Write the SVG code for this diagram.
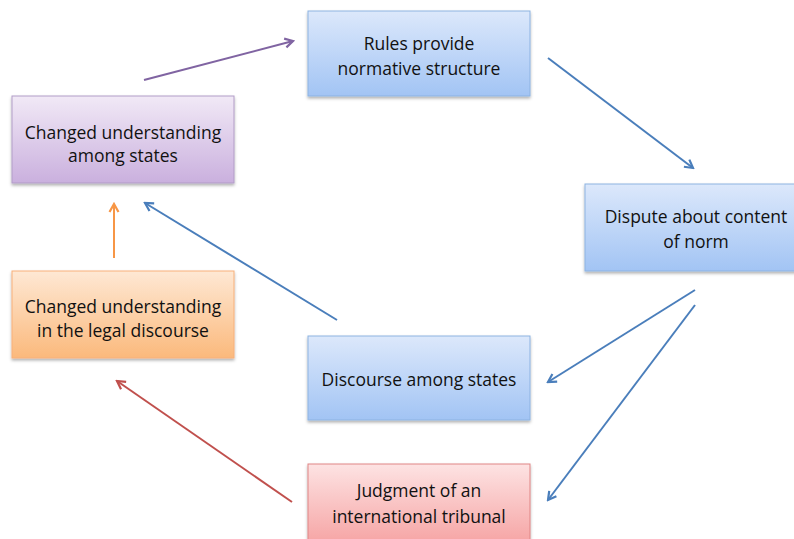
<svg xmlns="http://www.w3.org/2000/svg" width="794" height="539" viewBox="0 0 794 539">
<defs>
<linearGradient id="gBlue" x1="0" y1="0" x2="0" y2="1"><stop offset="0" stop-color="#dce8fb"/><stop offset="1" stop-color="#a2c4f4"/></linearGradient>
<linearGradient id="gPurple" x1="0" y1="0" x2="0" y2="1"><stop offset="0" stop-color="#f1e9f6"/><stop offset="1" stop-color="#cab0de"/></linearGradient>
<linearGradient id="gOrange" x1="0" y1="0" x2="0" y2="1"><stop offset="0" stop-color="#fee8d4"/><stop offset="1" stop-color="#fbb97c"/></linearGradient>
<linearGradient id="gRed" x1="0" y1="0" x2="0" y2="1"><stop offset="0" stop-color="#fde3e3"/><stop offset="1" stop-color="#f59c9c"/></linearGradient>
<filter id="sh" x="-10%" y="-10%" width="120%" height="130%"><feDropShadow dx="0" dy="2" stdDeviation="1.5" flood-color="#000" flood-opacity="0.3"/></filter>
<marker id="aBlue" markerWidth="12" markerHeight="12" refX="10" refY="6" orient="auto" markerUnits="userSpaceOnUse"><path d="M2,1.5 L10,6 L2,10.5" fill="none" stroke="#4a7ebb" stroke-width="2.2"/></marker>
<marker id="aPurple" markerWidth="12" markerHeight="12" refX="10" refY="6" orient="auto" markerUnits="userSpaceOnUse"><path d="M2,1.5 L10,6 L2,10.5" fill="none" stroke="#8064a2" stroke-width="2.2"/></marker>
<marker id="aOrange" markerWidth="12" markerHeight="12" refX="10" refY="6" orient="auto" markerUnits="userSpaceOnUse"><path d="M2,1.5 L10,6 L2,10.5" fill="none" stroke="#f79646" stroke-width="2.2"/></marker>
<marker id="aRed" markerWidth="12" markerHeight="12" refX="10" refY="6" orient="auto" markerUnits="userSpaceOnUse"><path d="M2,1.5 L10,6 L2,10.5" fill="none" stroke="#c0504d" stroke-width="2.2"/></marker>
</defs>
<style>
text{font-family:"Open Sans","Liberation Sans",sans-serif;font-size:17.5px;fill:#111111;text-anchor:middle}
.box{filter:url(#sh);stroke-width:1}
.blue{fill:url(#gBlue);stroke:#8db3e2}
.purple{fill:url(#gPurple);stroke:#b29dc7}
.orange{fill:url(#gOrange);stroke:#f7b07a}
.red{fill:url(#gRed);stroke:#e08585}
.c{fill:none;stroke-width:2}
</style>
<rect width="794" height="539" fill="#ffffff"/>
<g id="connectors">
<line class="c" x1="144" y1="80" x2="293" y2="41" stroke="#8064a2" marker-end="url(#aPurple)"/>
<line class="c" x1="548" y1="58" x2="693" y2="168" stroke="#4a7ebb" marker-end="url(#aBlue)"/>
<line class="c" x1="695" y1="290" x2="548" y2="382" stroke="#4a7ebb" marker-end="url(#aBlue)"/>
<line class="c" x1="695" y1="305" x2="548" y2="500" stroke="#4a7ebb" marker-end="url(#aBlue)"/>
<line class="c" x1="337" y1="320" x2="145" y2="203" stroke="#4a7ebb" marker-end="url(#aBlue)"/>
<line class="c" x1="114" y1="258" x2="114" y2="204" stroke="#f79646" marker-end="url(#aOrange)"/>
<line class="c" x1="292" y1="502" x2="117" y2="381" stroke="#c0504d" marker-end="url(#aRed)"/>
</g>
<g id="rules">
<rect class="box blue" x="308" y="11" width="222" height="85"/>
<text x="419" y="50">Rules provide</text>
<text x="419" y="75">normative structure</text>
</g>
<g id="changed-states">
<rect class="box purple" x="12" y="96" width="222" height="87"/>
<text x="123" y="139">Changed understanding</text>
<text x="123" y="162">among states</text>
</g>
<g id="dispute">
<rect class="box blue" x="585" y="184" width="222" height="87"/>
<text x="696" y="223">Dispute about content</text>
<text x="696" y="248">of norm</text>
</g>
<g id="changed-legal">
<rect class="box orange" x="12" y="271" width="222" height="87"/>
<text x="123" y="313">Changed understanding</text>
<text x="123" y="337">in the legal discourse</text>
</g>
<g id="discourse">
<rect class="box blue" x="308" y="336" width="222" height="84"/>
<text x="419" y="386">Discourse among states</text>
</g>
<g id="judgment">
<rect class="box red" x="308" y="464" width="222" height="90"/>
<text x="419" y="497">Judgment of an</text>
<text x="419" y="523">international tribunal</text>
</g>
</svg>
